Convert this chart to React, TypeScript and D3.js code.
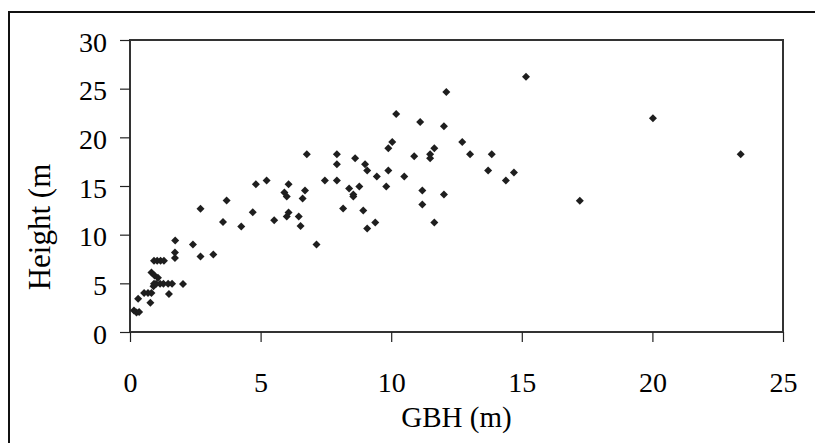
import React, { useEffect, useRef } from 'react';
import * as d3 from 'd3';

// GBH (m) vs height (m)
const gbh = [
  0.15, 0.25, 0.35, 0.31, 0.78, 0.54, 0.69, 0.82, 1.49,
  0.9, 0.92, 1.0, 1.15, 1.28, 1.46, 1.61, 2.03,
  0.82, 0.94, 1.07, 0.92, 1.04, 1.17, 1.3,
  1.72, 1.72, 1.73, 2.41, 2.7, 3.19, 2.7,
  3.56, 3.7, 4.26, 4.7, 4.82, 5.23, 5.52,
  5.91, 6.0, 6.07, 6.07, 6.0, 6.46, 6.53, 6.61, 6.7, 6.77,
  7.14, 7.46, 7.92, 7.92, 7.92, 8.16, 8.39, 8.55, 8.55, 8.62, 8.78, 8.93,
  9.0, 9.08, 9.08, 9.39, 9.45, 9.81, 9.89, 9.89, 10.04, 10.19, 10.5, 10.88,
  11.11, 11.19, 11.19, 11.49, 11.49, 11.65, 11.65, 12.02, 12.02, 12.11,
  12.72, 13.02, 13.71, 13.85, 14.39, 14.7, 15.16, 17.22, 20.02, 23.38,
];
const height = [
  2.2, 2.0, 2.05, 3.42, 3.0, 4.0, 4.0, 4.0, 3.9,
  4.7, 4.95, 4.95, 4.95, 4.95, 4.95, 4.95, 4.93,
  6.12, 5.81, 5.57, 7.32, 7.32, 7.32, 7.32,
  7.59, 8.17, 9.4, 8.99, 7.76, 7.97, 12.65,
  11.29, 13.51, 10.84, 12.31, 15.19, 15.56, 11.49,
  14.33, 13.92, 15.19, 12.28, 11.87, 11.87, 10.88, 13.71, 14.53, 18.27,
  9.0, 15.56, 15.56, 18.27, 17.24, 12.69, 14.74, 14.12, 13.92, 17.86, 14.95, 12.48,
  17.24, 16.59, 10.63, 11.25, 15.97, 14.95, 16.59, 18.88, 19.53, 22.41, 15.97, 18.06,
  21.58, 14.53, 13.1, 18.27, 17.86, 18.88, 11.25, 21.14, 14.12, 24.66,
  19.53, 18.27, 16.59, 18.27, 15.56, 16.38, 26.23, 13.48, 21.96, 18.27,
];
const xTicks = [0, 5, 10, 15, 20, 25];
const yTicks = [0, 5, 10, 15, 20, 25, 30];

const W = 815;
const H = 443;
const plot = { left: 130, top: 40, right: 783, bottom: 332 };
const font = '"Liberation Serif", "Times New Roman", serif';

const App: React.FC = () => {
  const svgRef = useRef<SVGSVGElement>(null);

  useEffect(() => {
    if (!svgRef.current) return;
    const svg = d3.select(svgRef.current);
    svg.selectAll('*').remove();

    const x = d3.scaleLinear().domain([0, 25]).range([plot.left, plot.right]);
    const y = d3.scaleLinear().domain([0, 30]).range([plot.bottom, plot.top]);

    svg.append('rect').attr('width', W).attr('height', H).attr('fill', '#fff');

    // outer frame, runs off the right and bottom edges in the scan
    svg.append('rect')
      .attr('x', 9).attr('y', 12)
      .attr('width', 830).attr('height', 460)
      .attr('fill', 'none')
      .attr('stroke', '#111')
      .attr('stroke-width', 2);

    // plot box
    svg.append('rect')
      .attr('x', plot.left).attr('y', plot.top)
      .attr('width', plot.right - plot.left)
      .attr('height', plot.bottom - plot.top)
      .attr('fill', 'none')
      .attr('stroke', '#333')
      .attr('stroke-width', 2);

    const xAxis = svg.append('g')
      .attr('transform', `translate(0,${plot.bottom})`)
      .call(d3.axisBottom(x).tickValues(xTicks).tickSize(10).tickPadding(24).tickFormat(d3.format('d')));
    const yAxis = svg.append('g')
      .attr('transform', `translate(${plot.left},0)`)
      .call(d3.axisLeft(y).tickValues(yTicks).tickSize(10).tickPadding(13).tickFormat(d3.format('d')));

    [xAxis, yAxis].forEach(g => {
      g.select('.domain').remove();
      g.selectAll('line').attr('stroke', '#222').attr('stroke-width', 1.2);
      g.selectAll('text')
        .attr('fill', '#000')
        .attr('font-family', font)
        .attr('font-size', 28);
    });
    xAxis.selectAll('text').attr('dy', null).attr('y', 60);
    yAxis.selectAll('text').attr('dy', '0.4em');

    const diamond = d3.symbol().type(d3.symbolSquare).size(32);
    svg.append('g')
      .selectAll('path')
      .data(gbh.map((g, i) => [g, height[i]]))
      .enter()
      .append('path')
      .attr('d', diamond)
      .attr('transform', d => `translate(${x(d[0])},${y(d[1])}) rotate(45)`)
      .attr('fill', '#1e1e1e');

    svg.append('text')
      .attr('x', (plot.left + plot.right) / 2)
      .attr('y', 427)
      .attr('text-anchor', 'middle')
      .attr('font-family', font)
      .attr('font-size', 29)
      .attr('fill', '#000')
      .text('GBH (m)');

    svg.append('text')
      .attr('transform', 'translate(50,227) rotate(-90)')
      .attr('text-anchor', 'middle')
      .attr('font-family', font)
      .attr('font-size', 31)
      .attr('fill', '#000')
      .text('Height (m');
  }, []);

  return (
    <svg
      ref={svgRef}
      width={W}
      height={H}
      style={{ position: 'fixed', left: 0, top: 0, display: 'block' }}
    />
  );
};

export default App;
